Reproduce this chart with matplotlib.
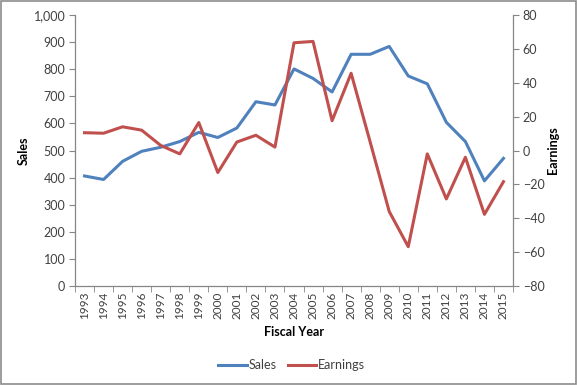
import matplotlib
matplotlib.use("Agg")
import matplotlib.pyplot as plt
from matplotlib.patches import Rectangle
import numpy as np

plt.rcParams['font.family'] = ['Lato', 'DejaVu Sans']

years = [str(y) for y in range(1993, 2016)]
sales = [406, 393, 460, 497, 512, 533, 567, 548, 583, 680, 668, 801, 766, 716,
         855, 855, 884, 775, 746, 604, 533, 388, 471]
earnings = [10.5, 10.2, 14, 12, 3, -2, 16.5, -13, 5, 9, 2, 63.6, 64.4, 17.6,
            45.6, 5, -36, -56.8, -2, -28.6, -4, -37.7, -18.4]

blue = '#4F81BD'
red = '#C0504D'
gray = '#868686'
txt = '#404040'

fig = plt.figure(figsize=(5.77, 3.85), dpi=100)
ax = fig.add_axes([75/577, 1-286/385, (513-75)/577, (286-15)/385])
ax2 = ax.twinx()

x = np.arange(len(years))
l1, = ax.plot(x, sales, color=blue, lw=2.2, label='Sales')
l2, = ax2.plot(x, earnings, color=red, lw=2.2, label='Earnings')

ax.set_xlim(-0.5, len(years)-0.5)
ax.set_ylim(0, 1000)
ax2.set_ylim(-80, 80)
ax.set_yticks(range(0, 1001, 100))
ax.set_yticklabels([f'{v:,}' for v in range(0, 1001, 100)])
ax2.set_yticks(range(-80, 81, 20))

ax.set_xticks(x)
ax.set_xticklabels(years, rotation=90)
ax.set_xticks(np.arange(-0.5, len(years), 1), minor=True)
ax.tick_params(axis='x', which='major', length=0, pad=4, labelsize=8.5, labelcolor=txt)
ax.tick_params(axis='x', which='minor', length=4, color=gray, direction='out')
ax.tick_params(axis='y', length=4, color=gray, labelsize=9, labelcolor=txt, pad=3)
ax2.tick_params(axis='y', length=4, color=gray, labelsize=9, labelcolor=txt, pad=3)

for a in (ax, ax2):
    a.spines['top'].set_visible(False)
    for s in ('left', 'right', 'bottom'):
        a.spines[s].set_color(gray)
        a.spines[s].set_linewidth(0.9)
ax.spines['right'].set_visible(False)
ax2.spines['left'].set_visible(False)
ax2.spines['bottom'].set_visible(False)

ax.set_ylabel('Sales', fontsize=9, fontweight='bold', color='black')
ax.yaxis.set_label_coords(-0.104, 0.5)
ax2.set_ylabel('Earnings', fontsize=9, fontweight='bold', color='black')
ax2.yaxis.set_label_coords(1.077, 0.5)
ax.set_xlabel('Fiscal Year', fontsize=9, fontweight='bold', color='black', labelpad=5)

fig.legend(handles=[l1, l2], loc='center', bbox_to_anchor=(0.505, 1-365/385), ncol=2,
           frameon=False, fontsize=9, handlelength=2.3, columnspacing=0.9, handletextpad=0.1,
           labelcolor=txt)

fig.patches.append(Rectangle((0.001, 0.002), 0.997, 0.995, transform=fig.transFigure,
                             fill=False, edgecolor='#8C8C8C', lw=1.2))

fig.savefig('out.png', dpi=100)
